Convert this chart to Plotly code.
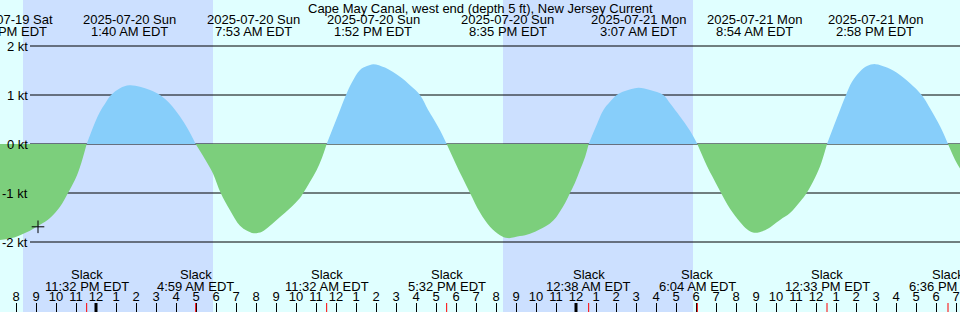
import plotly.graph_objects as go
import pandas as pd

# ---------------- data ----------------
BASE = pd.Timestamp("2025-07-20 00:00")  # EDT
# hours relative to 2025-07-20 00:00 EDT, current speed in knots (+ flood, - ebb)
hours = [-4.8, -4.3, -3.8, -3.3, -2.8, -2.3, -1.8, -1.4, -1.05, -0.8, -0.4667,
         -0.05, 0.2, 0.45, 0.75, 1.2, 1.667, 2.2, 2.7, 3.2, 3.7, 4.2, 4.6, 4.983,
         5.45, 5.85, 6.235, 6.7, 7.2, 7.55, 7.883, 8.3, 8.7, 9.2, 9.7, 10.2, 10.365,
         10.7, 11.035, 11.3, 11.533,
         12.035, 12.5, 12.8, 13.2, 13.55, 13.867, 14.45, 15.2, 15.7, 16.2, 16.6,
         16.865, 17.2, 17.533,
         17.95, 18.3, 18.7, 19.2, 19.7, 20.2, 20.583, 21.2, 21.7, 22.2, 22.7, 23.0,
         23.2, 23.45, 23.7, 23.95, 24.2, 24.45, 24.633,
         24.95, 25.365, 25.7, 26.035, 26.45, 27.117, 27.7, 28.365, 28.7, 29.2, 29.7,
         30.067,
         30.45, 30.8, 31.2, 31.7, 32.2, 32.55, 32.9, 33.45, 34.2, 34.7, 35.2, 35.535,
         35.85, 36.2, 36.55,
         37.035, 37.5, 37.8, 38.2, 38.55, 38.967, 39.55, 40.2, 40.7, 41.285, 41.7,
         42.035, 42.3, 42.6,
         42.95, 43.2]
knots = [-1.96, -1.93, -1.86, -1.77, -1.65, -1.51, -1.28, -1.0, -0.73, -0.47, 0,
         0.44, 0.66, 0.82, 1.0, 1.14, 1.20, 1.17, 1.10, 1.0, 0.82, 0.56, 0.30, 0,
         -0.31, -0.6, -1.0, -1.35, -1.67, -1.77, -1.82, -1.79, -1.67, -1.49, -1.31,
         -1.1, -1.0, -0.77, -0.53, -0.28, 0,
         0.52, 1.0, 1.26, 1.51, 1.59, 1.63, 1.56, 1.37, 1.20, 1.0, 0.70, 0.52, 0.28, 0,
         -0.37, -0.67, -1.0, -1.40, -1.69, -1.86, -1.92, -1.88, -1.83, -1.74, -1.62,
         -1.50, -1.38, -1.21, -1.0, -0.79, -0.53, -0.27, 0,
         0.31, 0.69, 0.86, 1.0, 1.08, 1.15, 1.10, 1.0, 0.83, 0.56, 0.27, 0,
         -0.36, -0.65, -0.96, -1.32, -1.59, -1.74, -1.81, -1.76, -1.55, -1.41, -1.18,
         -1.0, -0.77, -0.46, 0,
         0.52, 1.0, 1.27, 1.48, 1.59, 1.63, 1.56, 1.41, 1.24, 1.0, 0.73, 0.49, 0.28, 0,
         -0.32, -0.5]

max_times = ["2025-07-19 19:35", "2025-07-20 01:40", "2025-07-20 07:53", "2025-07-20 13:52",
             "2025-07-20 20:35", "2025-07-21 03:07", "2025-07-21 08:54", "2025-07-21 14:58"]
max_date_lbl = ["2025-07-19 Sat", "2025-07-20 Sun", "2025-07-20 Sun", "2025-07-20 Sun",
                "2025-07-20 Sun", "2025-07-21 Mon", "2025-07-21 Mon", "2025-07-21 Mon"]
max_time_lbl = ["7:35 PM EDT", "1:40 AM EDT", "7:53 AM EDT", "1:52 PM EDT",
                "8:35 PM EDT", "3:07 AM EDT", "8:54 AM EDT", "2:58 PM EDT"]

slack_times = ["2025-07-19 23:32", "2025-07-20 04:59", "2025-07-20 11:32", "2025-07-20 17:32",
               "2025-07-21 00:38", "2025-07-21 06:04", "2025-07-21 12:33", "2025-07-21 18:36"]
slack_lbl = ["11:32 PM EDT", "4:59 AM EDT", "11:32 AM EDT", "5:32 PM EDT",
             "12:38 AM EDT", "6:04 AM EDT", "12:33 PM EDT", "6:36 PM EDT"]

night_start = ["2025-07-19 20:21", "2025-07-20 20:21"]
night_end = ["2025-07-20 05:51", "2025-07-21 05:51"]

now_time = "2025-07-19 21:06"
now_value = -1.69

y_levels = [2, 1, 0, -1, -2]
y_labels = ["2 kt", "1 kt", "0 kt", "-1 kt", "-2 kt"]

TITLE = "Cape May Canal, west end (depth 5 ft), New Jersey Current"
X_START, X_END = "2025-07-19 19:12", "2025-07-21 19:12"

# ---------------- styles ----------------
DAY = "#e0ffff"
NIGHT = "#cce0ff"
FLOOD = "#87cefa"
EBB = "#7ccf7c"
FONT = "Liberation Sans"
FS = 13
W, H = 960, 312
Y_RANGE = [(144 - 312) / 49, 144 / 49]


def py(px):
    """paper y from pixel row (top = 0)"""
    return 1 - px / H


times = [BASE + pd.Timedelta(hours=h) for h in hours]

fig = go.Figure()

# split into flood/ebb lobes at slack (zero) points
segs, cur = [], [0]
for i in range(1, len(knots)):
    cur.append(i)
    if knots[i] == 0 and i != len(knots) - 1:
        segs.append(cur)
        cur = [i]
segs.append(cur)
for seg in segs:
    vals = [knots[i] for i in seg]
    col = FLOOD if max(vals) > 0 else EBB
    fig.add_trace(go.Scatter(x=[times[i] for i in seg], y=vals, mode="lines",
                             line=dict(width=0, color=col, shape="spline", smoothing=1),
                             fill="tozeroy", fillcolor=col, hoverinfo="skip",
                             showlegend=False))

# current-time marker
fig.add_trace(go.Scatter(x=[now_time], y=[now_value], mode="markers",
                         marker=dict(symbol="cross-thin-open", size=9, color="black",
                                     line=dict(width=1, color="black")),
                         showlegend=False, hoverinfo="skip"))

# hour labels along the bottom
hrs = pd.date_range("2025-07-19 20:00", "2025-07-21 19:00", freq="h")
hour_txt = [str(h.hour % 12 if h.hour % 12 else 12) for h in hrs]
fig.add_trace(go.Scatter(x=hrs, y=[(144 - 297.5) / 49] * len(hrs), mode="text",
                         text=hour_txt, textposition="middle center",
                         textfont=dict(family=FONT, size=FS, color="black"),
                         showlegend=False, hoverinfo="skip", cliponaxis=False))

shapes = []
for s, e in zip(night_start, night_end):
    shapes.append(dict(type="rect", xref="x", yref="paper", x0=s, x1=e, y0=0, y1=1,
                       fillcolor=NIGHT, line=dict(width=0), layer="below"))
for lv in y_levels:
    shapes.append(dict(type="line", xref="paper", yref="y", x0=30 / W, x1=1, y0=lv, y1=lv,
                       line=dict(color="black", width=1), layer="below"))
# midnight ticks (thick)
for m in pd.date_range("2025-07-20", "2025-07-21", freq="D"):
    shapes.append(dict(type="line", xref="x", yref="paper", x0=m, x1=m, y0=0, y1=9 / H,
                       line=dict(color="black", width=3)))
# slack ticks (red)
for st in slack_times:
    shapes.append(dict(type="line", xref="x", yref="paper", x0=st, x1=st, y0=0, y1=9 / H,
                       line=dict(color="red", width=1)))

ann = []
ann.append(dict(text=TITLE, x=0.5, xref="paper", y=py(8), yref="paper",
                showarrow=False, xanchor="center", yanchor="middle"))
for t, d, tl in zip(max_times, max_date_lbl, max_time_lbl):
    ann.append(dict(text=d, x=t, xref="x", y=py(19.5), yref="paper", showarrow=False,
                    xanchor="center", yanchor="middle"))
    ann.append(dict(text=tl, x=t, xref="x", y=py(31.5), yref="paper", showarrow=False,
                    xanchor="center", yanchor="middle"))
for t, tl in zip(slack_times, slack_lbl):
    ann.append(dict(text="Slack", x=t, xref="x", y=py(274), yref="paper", showarrow=False,
                    xanchor="center", yanchor="middle"))
    ann.append(dict(text=tl, x=t, xref="x", y=py(286), yref="paper", showarrow=False,
                    xanchor="center", yanchor="middle"))
for lv, lb in zip(y_levels, y_labels):
    ann.append(dict(text=lb, x=28.5 / W, xref="paper", y=lv, yref="y", showarrow=False,
                    xanchor="right", yanchor="middle"))
for a in ann:
    a["font"] = dict(family=FONT, size=FS, color="black")
    a["borderpad"] = 0
    a["captureevents"] = False

fig.update_layout(
    width=W, height=H,
    margin=dict(l=0, r=0, t=0, b=0),
    paper_bgcolor=DAY, plot_bgcolor=DAY,
    shapes=shapes, annotations=ann,
    showlegend=False,
    xaxis=dict(type="date", range=[X_START, X_END], showgrid=False, zeroline=False,
               showline=False, ticks="inside", ticklen=9, tickwidth=1, tickcolor="black",
               dtick=3600000, tick0="2025-07-19 20:00", showticklabels=False,
               fixedrange=True),
    yaxis=dict(range=Y_RANGE, showgrid=False, zeroline=False, showline=False,
               showticklabels=False, ticks="", fixedrange=True),
)

fig.write_html("out.html", config={"displayModeBar": False})
